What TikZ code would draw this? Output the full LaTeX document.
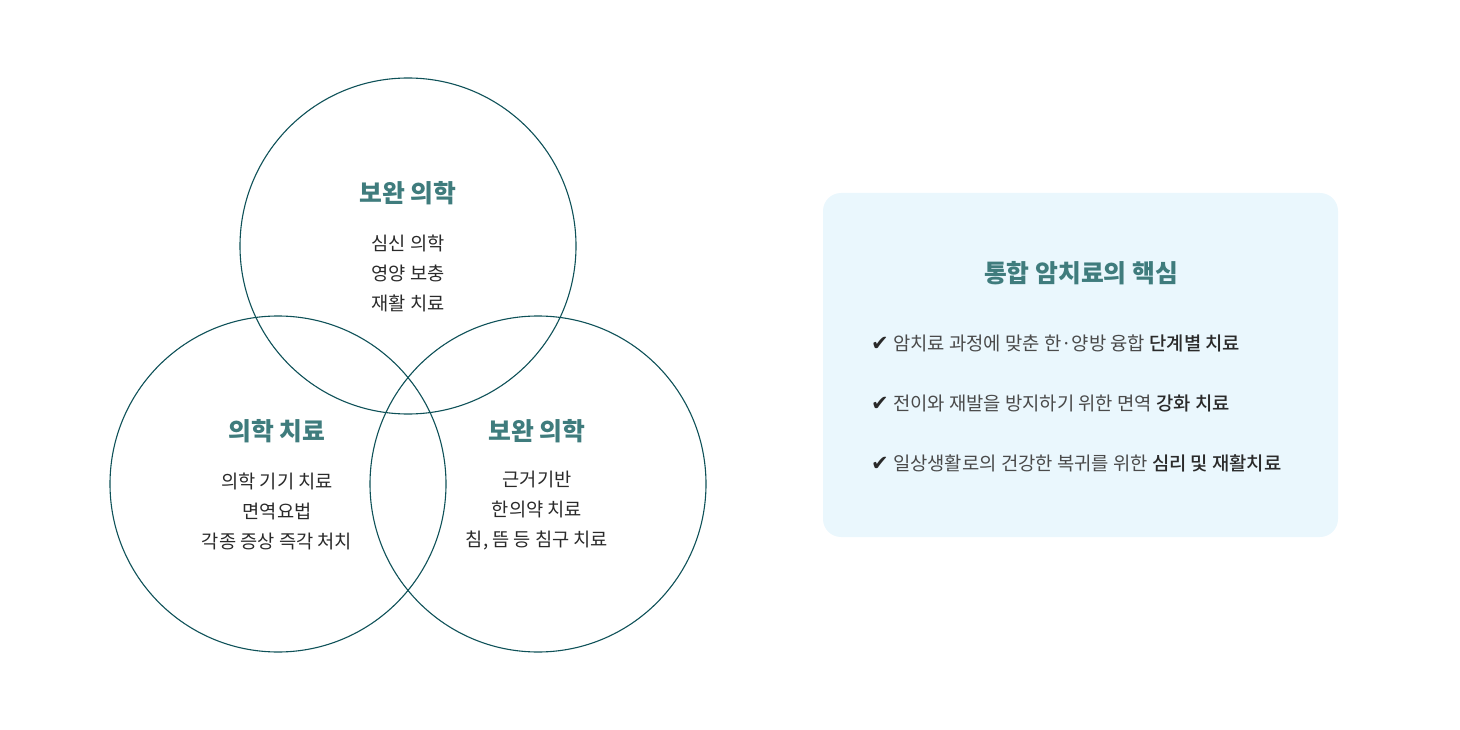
\documentclass[tikz,border=0pt]{standalone}
\usepackage{fontspec}
\setmainfont{Noto Sans CJK KR}
\newfontfamily\symfont{DejaVu Sans}
\newfontfamily\medfont{Noto Sans CJK KR Medium}
\definecolor{ringc}{HTML}{0E5158}
\definecolor{titlec}{HTML}{3F7C7D}
\definecolor{bodyc}{HTML}{2A2A2A}
\definecolor{boxfill}{HTML}{EAF7FD}
\begin{document}
\begin{tikzpicture}[x=1pt,y=-1pt,
  ring/.style={draw=ringc,line width=1.1pt},
  ctitle/.style={font=\fontsize{24.8}{25}\selectfont\bfseries,text=titlec,inner sep=0pt},
  cbody/.style={font=\fontsize{18.7}{30}\selectfont,text=bodyc,align=center,inner sep=0pt},
  bullet/.style={font=\fontsize{18.8}{19}\selectfont,text=bodyc!85!white,anchor=west,inner sep=0pt},
  panel/.style={fill=boxfill,rounded corners=18pt,draw=none}]
\useasboundingbox (0,0) rectangle (1460,730);
% circles
\node[ring,circle,minimum size=336pt,inner sep=0pt] (ctop) at (408,246) {};
\node[ring,circle,minimum size=336pt,inner sep=0pt] (cleft) at (278,484) {};
\node[ring,circle,minimum size=336pt,inner sep=0pt] (cright) at (538,484) {};
% top circle text
\node[ctitle] (ttop) at (408,193) {보완 의학};
\node[cbody] (btop) at (408,273) {심신 의학\\영양 보충\\재활 치료};
% left circle text
\node[ctitle] (tleft) at (277,431) {의학 치료};
\node[cbody] (bleft) at (277,511) {의학 기기 치료\\면역요법\\각종 증상 즉각 처치};
% right circle text
\node[ctitle] (tright) at (537,431) {보완 의학};
\node[cbody] (bright) at (537,511) {근거기반\\한의약 치료\\침, 뜸 등 침구 치료};
% panel
\draw[panel] (823,193) rectangle (1338,537);
\node[ctitle] (ptitle) at (1081,273) {통합 암치료의 핵심};
\node[bullet] (b1) at (871,343) {{\symfont\fontsize{21}{21}\selectfont\color{bodyc}✔} 암치료 과정에 맞춘 한·양방 융합 {\medfont\color{bodyc}단계별 치료}};
\node[bullet] (b2) at (871,403) {{\symfont\fontsize{21}{21}\selectfont\color{bodyc}✔} 전이와 재발을 방지하기 위한 면역 {\medfont\color{bodyc}강화 치료}};
\node[bullet] (b3) at (871,463) {{\symfont\fontsize{21}{21}\selectfont\color{bodyc}✔} 일상생활로의 건강한 복귀를 위한 {\medfont\color{bodyc}심리 및 재활치료}};
\end{tikzpicture}
\end{document}
